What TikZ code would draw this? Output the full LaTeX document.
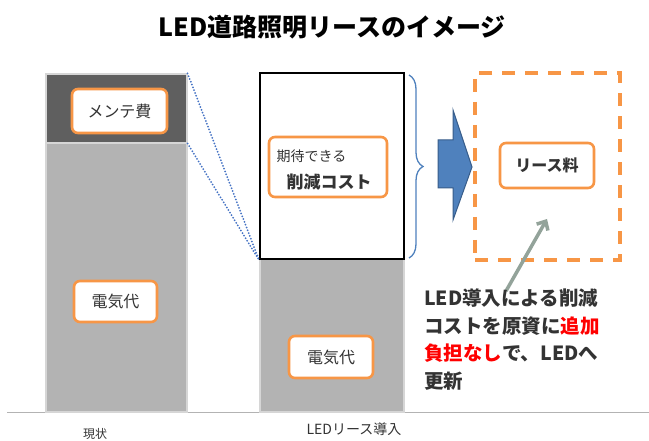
\documentclass[tikz,border=0pt]{standalone}
\usepackage{fontspec}
\setmainfont{Noto Sans CJK JP}
\usetikzlibrary{arrows.meta,decorations.pathreplacing}
\definecolor{darkbar}{HTML}{5F5F5F}
\definecolor{lightbar}{HTML}{B3B3B3}
\definecolor{barrim}{HTML}{D6D6D6}
\definecolor{orng}{HTML}{F79646}
\definecolor{blu}{HTML}{4F81BD}
\definecolor{bluedge}{HTML}{385D8A}
\definecolor{dotblue}{HTML}{4472C4}
\definecolor{grarrow}{HTML}{93A39A}
\definecolor{txt}{HTML}{333333}
\definecolor{redtxt}{HTML}{FF0000}
\tikzset{
  bar/.style={draw=barrim, line width=1.2pt, inner sep=0pt},
  tag/.style={draw=orng, line width=2.6pt, fill=white, rounded corners=6pt, inner sep=0pt, text=txt},
  fs/.style={font=\fontsize{#1}{#1}\selectfont},
  dotln/.style={dotblue, line width=2pt, dash pattern=on 0pt off 3pt, line cap=round}
}
\begin{document}
\begin{tikzpicture}[x=1pt,y=-1pt]
\useasboundingbox[fill=white] (0,0) rectangle (649,441);
% title
\node[text=black, font=\bfseries\fontsize{25}{25}\selectfont] (title) at (332,27) {LED道路照明リースのイメージ};
% baseline
\coordinate (bl) at (7,412);
\coordinate (br) at (649,412);
\draw[draw=lightbar, line width=1pt] (bl) -- (br);
% left bar
\node[bar, fill=darkbar, minimum width=141pt, minimum height=69pt] (dark) at (116.5,108.5) {};
\node[bar, fill=lightbar, minimum width=141pt, minimum height=269pt] (lgrey) at (116.5,277.5) {};
% middle bar
\node[bar, fill=lightbar, minimum width=144pt, minimum height=153pt] (mgrey) at (332,335.5) {};
\node[draw=black, line width=2pt, fill=white, minimum width=144pt, minimum height=186pt, inner sep=0pt] (wbox) at (332,166) {};
% dotted lines
\draw[dotln] (dark.north east) -- (wbox.south west);
\draw[dotln] (dark.south east) -- (wbox.south west);
% tags
\node[tag, minimum width=95pt, minimum height=44pt, fs=16] (mente) at (119.5,111) {メンテ費};
\node[tag, minimum width=83pt, minimum height=41pt, fs=16] (den1) at (115.5,301.5) {電気代};
\node[tag, minimum width=84pt, minimum height=42pt, fs=16] (den2) at (331,357) {電気代};
\node[tag, minimum width=118pt, minimum height=60pt] (sakugen) at (328,167) {};
\node[text=txt, anchor=west, fs=14] (kitai) at (273,156) {期待できる};
\node[text=txt, anchor=west, font=\bfseries\fontsize{17}{17}\selectfont] (sk) at (283,182) {削減コスト};
% brace
\coordinate (btop) at (409,75);
\coordinate (bbot) at (409,258);
\draw[blu, line width=1.3pt, decoration={brace, amplitude=14pt}, decorate] (btop) -- (bbot);
% block arrow
\draw[fill=blu, draw=bluedge, line width=1pt] (438,140) -- (453,140) -- (453,110) -- (472,167) -- (453,220) -- (453,188) -- (438,188) -- cycle;
% dashed box
\node[draw=orng, line width=4pt, dash pattern=on 13pt off 10pt, minimum width=145pt, minimum height=187pt, inner sep=0pt] (lease) at (547.5,166.5) {};
\node[tag, minimum width=94pt, minimum height=45pt, font=\bfseries\fontsize{16}{16}\selectfont] (ryo) at (547,165.5) {リース料};
% grey arrow
\coordinate (gstart) at (506,291);
\coordinate (gend) at (547,219);
\draw[grarrow, line width=3.5pt, -{Straight Barb[length=7pt,width=13pt]}] (gstart) -- (gend);
% text block
\node[anchor=north west, align=left, text=txt, inner sep=0pt, font=\bfseries\fontsize{19.5}{27.5}\selectfont] (note) at (424,289)
{LED導入による削減\\コストを原資に\textcolor{redtxt}{追加}\\\textcolor{redtxt}{負担なし}で、LEDへ\\更新};
% bottom labels
\node[text=txt, fs=12] (genjo) at (95,434) {現状};
\node[text=txt, fs=14] (ledin) at (354,429) {LEDリース導入};
\end{tikzpicture}
\end{document}
